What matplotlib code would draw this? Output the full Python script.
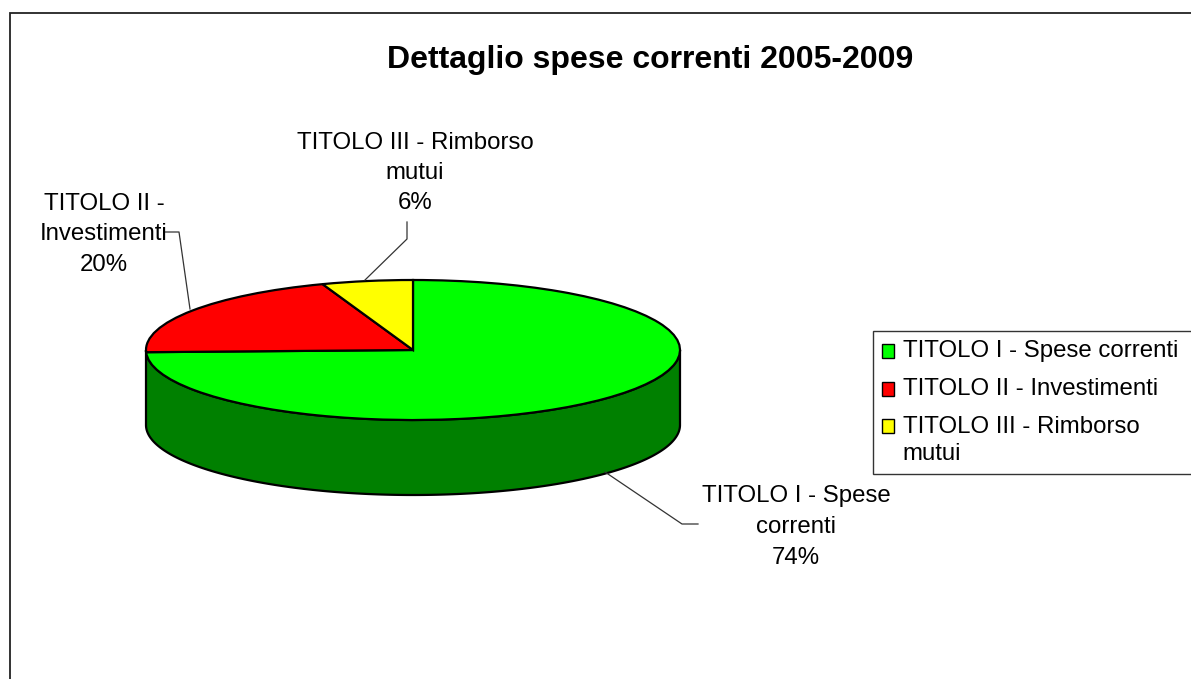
import numpy as np
import matplotlib
matplotlib.use("Agg")
import matplotlib.pyplot as plt
from matplotlib.patches import Polygon

plt.rcParams['font.family'] = ['Liberation Sans', 'DejaVu Sans']

W, H = 1191, 679
title = "Dettaglio spese correnti 2005-2009"
categories = ["TITOLO I - Spese correnti", "TITOLO II - Investimenti", "TITOLO III - Rimborso\nmutui"]
values = [74.5, 20, 5.5]
colors = ["#00FF00", "#FF0000", "#FFFF00"]
side_color = "#008000"
data_labels = ["TITOLO I - Spese\ncorrenti\n74%", "TITOLO II -\nInvestimenti\n20%", "TITOLO III - Rimborso\nmutui\n6%"]

fig = plt.figure(figsize=(W / 100, H / 100), dpi=100, facecolor="white")

# overlay in pixel coordinates
ov = fig.add_axes([0, 0, 1, 1], zorder=5)
ov.set_xlim(0, W)
ov.set_ylim(H, 0)
ov.axis("off")
ov.patch.set_alpha(0)

# pie axes: ellipse centre (413,350), radii 267 x 70
cx, cy, rx, ry, depth = 413, 350, 267, 70, 75
m = 1.25
pa = fig.add_axes([(cx - rx * m) / W, (H - cy - ry * m) / H, 2 * rx * m / W, 2 * ry * m / H], zorder=1)
wedges, _ = pa.pie(values, colors=colors, startangle=90, counterclock=False, radius=1,
                   wedgeprops=dict(edgecolor="black", linewidth=1.6, zorder=3))
pa.set_aspect("auto")
pa.set_xlim(-m, m)
pa.set_ylim(-m, m)
pa.axis("off")

t = np.linspace(0, -np.pi, 200)
d = depth / ry
xs = np.cos(t)
ys = np.sin(t)
poly = np.vstack([np.column_stack([xs, ys]), np.column_stack([xs[::-1], ys[::-1] - d])])
pa.add_patch(Polygon(poly, closed=True, facecolor=side_color, edgecolor="black",
                     linewidth=1.6, zorder=2, clip_on=False))

# frame
ov.plot([9.5, 9.5, W], [H, 12.5, 12.5], color="#222222", lw=1.3, solid_joinstyle="miter", clip_on=False)

ov.text(650, 60, title, fontsize=23, fontweight="bold", ha="center", va="center", color="black")

fs = 17.3
ov.text(796, 527, data_labels[0], fontsize=fs, ha="center", va="center", linespacing=1.52, color="black")
ov.text(104, 234.5, data_labels[1], fontsize=fs, ha="center", va="center", linespacing=1.48, color="black")
ov.text(415, 173, data_labels[2], fontsize=fs, ha="center", va="center", linespacing=1.46, color="black")

lk = dict(color="#333333", lw=0.9)
ov.plot([605, 682, 698], [472, 524, 524], **lk)
ov.plot([165, 179, 190], [232, 232, 309], **lk)
ov.plot([407, 407, 365], [222, 239, 280], **lk)

leg = ov.legend(wedges, categories, loc="upper left",
                bbox_to_anchor=(873 / W, 1 - 473 / H, (W - 873 + 6) / W, 142 / H),
                bbox_transform=fig.transFigure, mode="expand", borderaxespad=0,
                fontsize=fs, frameon=True, fancybox=False, edgecolor="#333333",
                framealpha=1, handlelength=0.5, handleheight=0.5, handletextpad=0.37,
                labelspacing=0.67, borderpad=0.36)
leg.get_frame().set_linewidth(1.0)
for h, shift in zip(leg.get_patches(), [-2.0, -2.0, 10.5]):
    h.set_linewidth(1.0)
    h.set_y(h.get_y() + shift)
for txt in leg.get_texts():
    txt.set_linespacing(1.33)

fig.savefig("out.png", dpi=100, facecolor="white")
